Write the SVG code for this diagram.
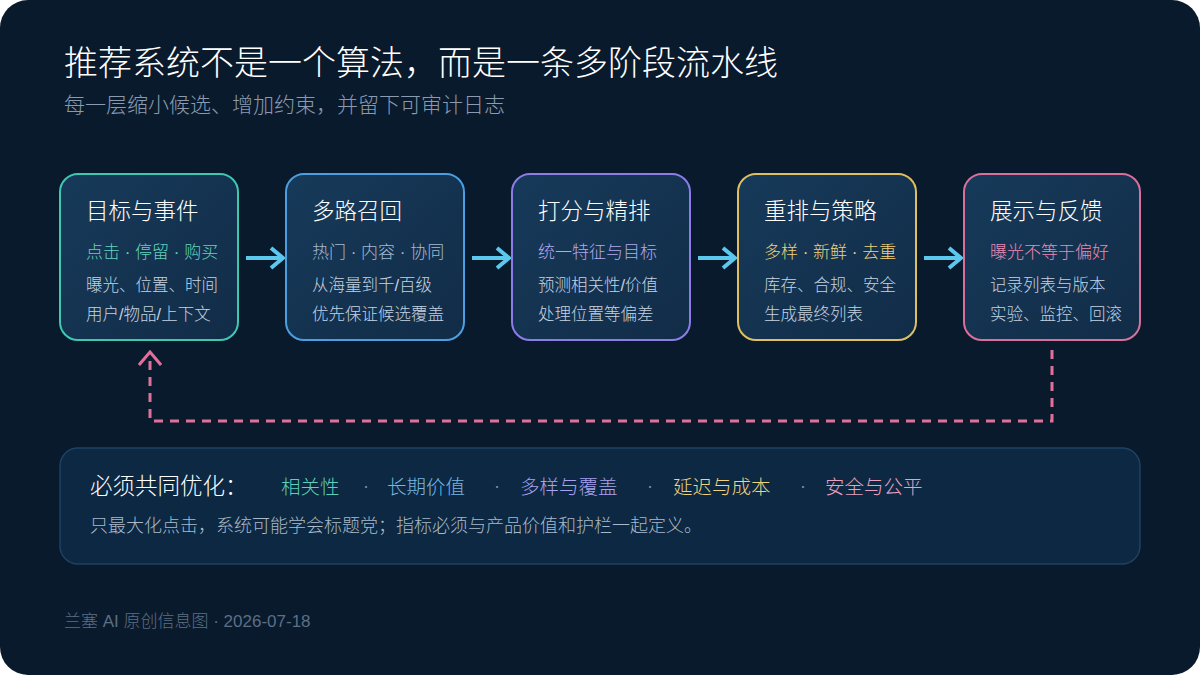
<svg xmlns="http://www.w3.org/2000/svg" width="1200" height="675" viewBox="0 0 1200 675">
  <defs>
    <linearGradient id="nodeFill" x1="0" y1="0" x2="1" y2="1">
      <stop offset="0" stop-color="#173a5a"/>
      <stop offset="1" stop-color="#112c47"/>
    </linearGradient>
    <marker id="arrowBlue" viewBox="0 0 18 24" refX="15" refY="12" markerWidth="18" markerHeight="24" markerUnits="userSpaceOnUse" orient="auto">
      <path d="M3,2 L15,12 L3,22" fill="none" stroke="#5cc8ee" stroke-width="4"/>
    </marker>
    <marker id="arrowPink" viewBox="0 0 24 16" refX="12" refY="2" markerWidth="24" markerHeight="16" markerUnits="userSpaceOnUse" orient="0">
      <path d="M1,15 L12,2 L23,15" fill="none" stroke="#e0709a" stroke-width="3"/>
    </marker>
  </defs>
  <style>
    .cjk { font-family: "Liberation Sans", "Noto Sans CJK SC", sans-serif; font-weight: 300; }
    .node { fill: url(#nodeFill); stroke-width: 2; }
    .ntitle { font-size: 22.5px; fill: #ffffff; }
    .nl1 { font-size: 17px; }
    .nl { font-size: 16.5px; fill: #c4d3e2; }
    .flow { stroke: #5cc8ee; stroke-width: 4; fill: none; }
    .loop { stroke: #e0709a; stroke-width: 3; fill: none; stroke-dasharray: 9 7; }
    .item { font-size: 19.5px; }
    .dot { font-size: 18px; fill: #7d90a4; }
  </style>
  <rect x="0" y="0" width="1200" height="675" fill="#ffffff"/>
  <rect x="0" y="0" width="1200" height="675" rx="28" fill="#0a1a2d"/>

  <g id="header" class="cjk">
    <text x="64" y="75" font-size="34" fill="#ffffff">推荐系统不是一个算法，而是一条多阶段流水线</text>
    <text x="64" y="112" font-size="21" fill="#8a9bb0">每一层缩小候选、增加约束，并留下可审计日志</text>
  </g>

  <g id="connectors">
    <line class="flow" x1="246" y1="258" x2="283" y2="258" marker-end="url(#arrowBlue)"/>
    <line class="flow" x1="472" y1="258" x2="509" y2="258" marker-end="url(#arrowBlue)"/>
    <line class="flow" x1="698" y1="258" x2="735" y2="258" marker-end="url(#arrowBlue)"/>
    <line class="flow" x1="924" y1="258" x2="961" y2="258" marker-end="url(#arrowBlue)"/>
    <path class="loop" d="M1052,350 L1052,421 L150,421 L150,352" marker-end="url(#arrowPink)"/>
  </g>

  <g id="node1" class="cjk">
    <rect class="node" x="60" y="174" width="178" height="166" rx="18" stroke="#3fc7b0"/>
    <text class="ntitle" x="86" y="219">目标与事件</text>
    <text class="nl1" x="86" y="258" fill="#62d4bd">点击 · 停留 · 购买</text>
    <text class="nl" x="86" y="291">曝光、位置、时间</text>
    <text class="nl" x="86" y="320">用户/物品/上下文</text>
  </g>
  <g id="node2" class="cjk">
    <rect class="node" x="286" y="174" width="178" height="166" rx="18" stroke="#4b9fe0"/>
    <text class="ntitle" x="312" y="219">多路召回</text>
    <text class="nl1" x="312" y="258" fill="#a3bbd2">热门 · 内容 · 协同</text>
    <text class="nl" x="312" y="291">从海量到千/百级</text>
    <text class="nl" x="312" y="320">优先保证候选覆盖</text>
  </g>
  <g id="node3" class="cjk">
    <rect class="node" x="512" y="174" width="178" height="166" rx="18" stroke="#8c7ce8"/>
    <text class="ntitle" x="538" y="219">打分与精排</text>
    <text class="nl1" x="538" y="258" fill="#b2a9f0">统一特征与目标</text>
    <text class="nl" x="538" y="291">预测相关性/价值</text>
    <text class="nl" x="538" y="320">处理位置等偏差</text>
  </g>
  <g id="node4" class="cjk">
    <rect class="node" x="738" y="174" width="178" height="166" rx="18" stroke="#dfbf5e"/>
    <text class="ntitle" x="764" y="219">重排与策略</text>
    <text class="nl1" x="764" y="258" fill="#f0d27e">多样 · 新鲜 · 去重</text>
    <text class="nl" x="764" y="291">库存、合规、安全</text>
    <text class="nl" x="764" y="320">生成最终列表</text>
  </g>
  <g id="node5" class="cjk">
    <rect class="node" x="964" y="174" width="176" height="166" rx="18" stroke="#d8709b"/>
    <text class="ntitle" x="990" y="219">展示与反馈</text>
    <text class="nl1" x="990" y="258" fill="#ea8ab2">曝光不等于偏好</text>
    <text class="nl" x="990" y="291">记录列表与版本</text>
    <text class="nl" x="990" y="320">实验、监控、回滚</text>
  </g>

  <g id="panel" class="cjk">
    <rect x="60" y="448" width="1080" height="116" rx="18" fill="#0c2843" stroke="#1d4263" stroke-width="1.5"/>
    <text x="90" y="494" font-size="22.5" fill="#ffffff">必须共同优化：</text>
    <text class="item" x="281" y="494" fill="#5fd0b8">相关性</text>
    <text class="dot" x="363" y="492">·</text>
    <text class="item" x="387" y="494" fill="#79b6e0">长期价值</text>
    <text class="dot" x="494" y="492">·</text>
    <text class="item" x="520" y="494" fill="#a8a0f0">多样与覆盖</text>
    <text class="dot" x="647" y="492">·</text>
    <text class="item" x="673" y="494" fill="#f0d27e">延迟与成本</text>
    <text class="dot" x="800" y="492">·</text>
    <text class="item" x="825" y="494" fill="#e6a2c2">安全与公平</text>
    <text x="90" y="532" font-size="18" fill="#a9b9c9">只最大化点击，系统可能学会标题党；指标必须与产品价值和护栏一起定义。</text>
  </g>

  <g id="footer" class="cjk">
    <text x="64" y="627" font-size="17" fill="#5b6f85">兰塞 AI 原创信息图 · 2026-07-18</text>
  </g>
</svg>
